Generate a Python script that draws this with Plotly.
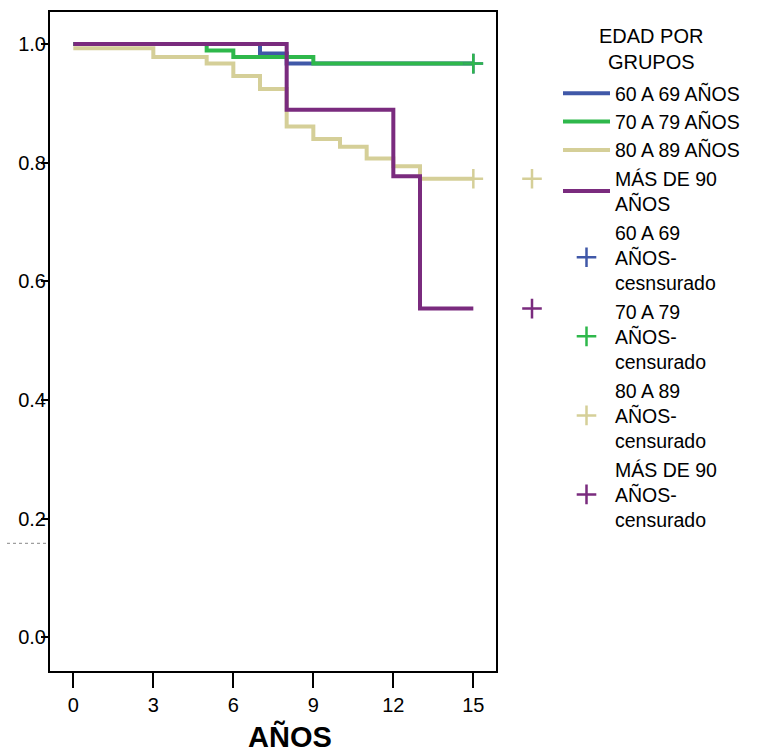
import plotly.graph_objects as go

# ---- data ----
group_names = ["60 A 69 AÑOS", "70 A 79 AÑOS", "80 A 89 AÑOS", "MÁS DE 90<br>AÑOS"]
censor_names = ["60 A 69<br>AÑOS-<br>cesnsurado", "70 A 79<br>AÑOS-<br>censurado",
                "80 A 89<br>AÑOS-<br>censurado", "MÁS DE 90<br>AÑOS-<br>censurado"]
colors = ["#4058A8", "#2EB84B", "#D5CF98", "#7A2B7E"]

t_60 = [0, 7, 8, 15]
s_60 = [1.0, 0.984, 0.967, 0.967]
t_70 = [0, 5, 6, 9, 15]
s_70 = [1.0, 0.989, 0.978, 0.967, 0.967]
t_80 = [0, 3, 5, 6, 7, 8, 9, 10, 11, 12, 13, 15]
s_80 = [0.993, 0.978, 0.967, 0.946, 0.924, 0.861, 0.840, 0.827, 0.807, 0.794, 0.773, 0.773]
t_90 = [0, 8, 12, 13, 15]
s_90 = [1.0, 0.889, 0.777, 0.554, 0.554]

# censored marks
cens_t = [[15], [15], [15], []]
cens_s = [[0.967], [0.967], [0.773], []]
# stray censor marks drawn beyond the frame
out_t_80 = [17.2]
out_s_80 = [0.773]
out_t_90 = [17.2]
out_s_90 = [0.554]

x_ticks = [0, 3, 6, 9, 12, 15]
y_ticks = [0.0, 0.2, 0.4, 0.6, 0.8, 1.0]

FONT = "Arial, Liberation Sans, sans-serif"
Y_RANGE = [-0.057, 1.054]

fig = go.Figure()
curves = [(t_60, s_60), (t_70, s_70), (t_80, s_80), (t_90, s_90)]
for name, (t, s), c in zip(group_names, curves, colors):
    fig.add_trace(go.Scatter(x=t, y=s, mode="lines", line=dict(color=c, width=4, shape="hv"),
                             name=name, xaxis="x", yaxis="y"))

marker_style = lambda c: dict(symbol="cross-thin", size=14, line=dict(color=c, width=2.5), color=c)
for i, (name, c) in enumerate(zip(censor_names, colors)):
    if i < 3:
        fig.add_trace(go.Scatter(x=cens_t[i], y=cens_s[i], mode="markers", marker=marker_style(c),
                                 name=name, xaxis="x", yaxis="y", cliponaxis=False))
    else:
        fig.add_trace(go.Scatter(x=out_t_90, y=out_s_90, mode="markers", marker=marker_style(c),
                                 name=name, xaxis="x2", yaxis="y", cliponaxis=False))
fig.add_trace(go.Scatter(x=out_t_80, y=out_s_80, mode="markers", marker=marker_style(colors[2]),
                         showlegend=False, xaxis="x2", yaxis="y", cliponaxis=False))

plot_w = 710.0
plot_h = 659.0
frame_w = 446.0
px_per_year = 80.0 / 3.0
x0 = -0.875

fig.update_layout(
    width=760, height=753,
    margin=dict(l=50, r=0, t=12, b=82),
    paper_bgcolor="white", plot_bgcolor="rgba(0,0,0,0)",
    font=dict(family=FONT, size=19, color="black"),
    showlegend=True,
    xaxis=dict(domain=[0, frame_w / plot_w], range=[x0, x0 + frame_w / px_per_year],
               tickvals=x_ticks, ticktext=[str(v) for v in x_ticks],
               ticks="outside", ticklen=15, tickwidth=2, tickcolor="black",
               showline=True, linewidth=2, linecolor="black", mirror=True,
               showgrid=False, zeroline=False, tickfont=dict(size=20), anchor="y"),
    xaxis2=dict(domain=[0, 1], range=[x0, x0 + plot_w / px_per_year], visible=False,
                anchor="y", showgrid=False, zeroline=False),
    # frame line + tick marks
    yaxis=dict(domain=[0, 1], range=Y_RANGE, tickvals=y_ticks,
               ticks="outside", ticklen=7, tickwidth=2, tickcolor="black",
               showticklabels=False,
               showline=True, linewidth=2, linecolor="black", mirror=True,
               showgrid=False, zeroline=False, anchor="x"),
    # tick labels, set slightly closer to the frame so they touch the tick marks
    yaxis3=dict(overlaying="y", side="left", anchor="free", position=4 / plot_w,
                range=Y_RANGE, tickvals=y_ticks, ticktext=["%.1f" % v for v in y_ticks],
                ticks="", showticklabels=True, tickfont=dict(size=20), ticklabelstandoff=8,
                showline=False, showgrid=False, zeroline=False),
    legend=dict(x=(558 - 50) / plot_w, y=(671 - 74) / plot_h, xanchor="left", yanchor="top",
                font=dict(size=19.5, family=FONT), itemwidth=47, bgcolor="rgba(0,0,0,0)",
                tracegroupgap=0),
    annotations=[
        dict(text="<b>AÑOS</b>", xref="paper", yref="paper",
             x=(290 - 50) / plot_w, y=(671 - 737) / plot_h,
             xanchor="center", yanchor="middle", showarrow=False,
             font=dict(size=29, family=FONT, color="black")),
        dict(text="EDAD POR<br>GRUPOS", xref="paper", yref="paper",
             x=(651 - 50) / plot_w, y=(671 - 49) / plot_h, align="center",
             xanchor="center", yanchor="middle", showarrow=False,
             font=dict(size=20, family=FONT, color="black")),
    ],
    shapes=[dict(type="line", xref="paper", yref="paper",
                 x0=(7 - 50) / plot_w, x1=(48 - 50) / plot_w,
                 y0=(671 - 543.3) / plot_h, y1=(671 - 543.3) / plot_h,
                 line=dict(color="#888888", width=1, dash="dot"))],
)

# an empty trace on the label axis so that it is drawn
fig.add_trace(go.Scatter(x=[None], y=[None], xaxis="x", yaxis="y3", showlegend=False,
                         hoverinfo="skip"))

fig.write_html("out.html")
